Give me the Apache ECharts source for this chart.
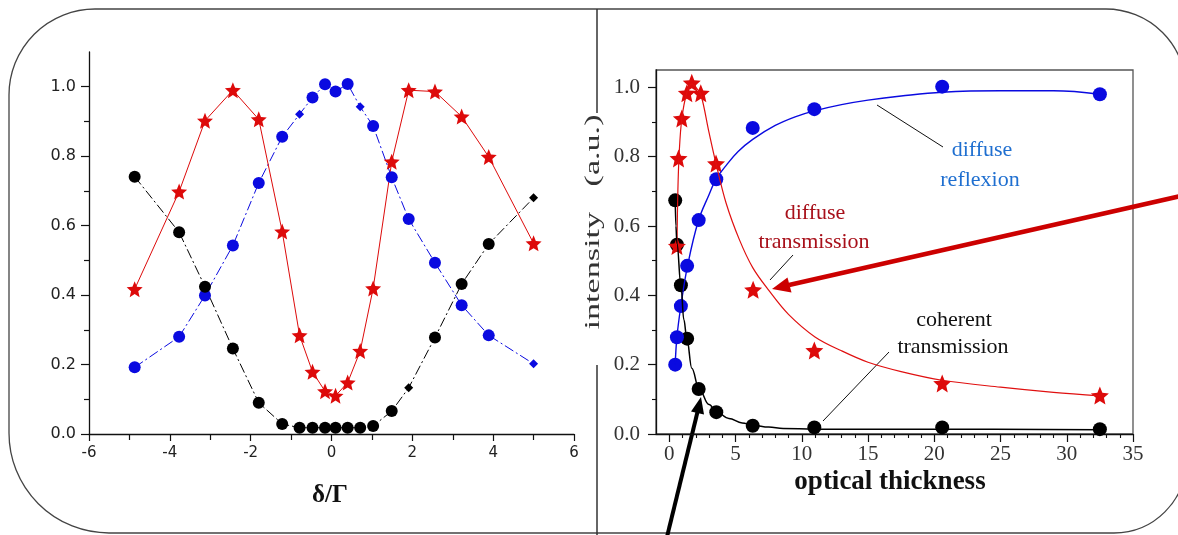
<!DOCTYPE html>
<html>
<head>
<meta charset="utf-8">
<script src="https://cdn.jsdelivr.net/npm/echarts@6/dist/echarts.min.js"></script>
<style>
  html, body { margin: 0; padding: 0; background: #fff; }
  #chart { width: 1178px; height: 535px; }
</style>
</head>
<body>
<div id="chart"></div>
<script>
// ---- Left panel: intensities versus detuning δ/Γ ----
const detuning = [-4.87, -3.77, -3.13, -2.44, -1.80, -1.22, -0.79, -0.47, -0.16, 0.10,
                  0.40, 0.71, 1.03, 1.49, 1.91, 2.56, 3.22, 3.89, 5.00];
const coherentVsDetuning = [0.741, 0.581, 0.424, 0.246, 0.090, 0.029, 0.018, 0.018, 0.018, 0.018,
                            0.018, 0.018, 0.023, 0.066, 0.133, 0.278, 0.432, 0.547, 0.680];
const diffuseTVsDetuning = [0.417, 0.698, 0.902, 0.990, 0.906, 0.583, 0.284, 0.179, 0.123, 0.110,
                            0.148, 0.239, 0.419, 0.784, 0.990, 0.986, 0.914, 0.798, 0.549];
const diffuseRVsDetuning = [0.192, 0.280, 0.399, 0.543, 0.723, 0.856, 0.921, 0.969, 1.007, 0.986,
                            1.008, 0.942, 0.887, 0.739, 0.619, 0.493, 0.371, 0.284, 0.202];

// ---- Right panel: intensities versus optical thickness ----
const thickness = [0.45, 0.58, 0.88, 1.35, 2.22, 3.55, 6.30, 10.95, 20.6, 32.5];
const diffuseReflexion = [0.200, 0.279, 0.369, 0.485, 0.617, 0.735, 0.883, 0.937, 1.002, 0.980];
const coherentTransmission = [0.674, 0.546, 0.429, 0.275, 0.130, 0.063, 0.024, 0.019, 0.019, 0.014];
const thicknessDT = [0.58, 0.70, 0.95, 1.33, 1.70, 2.38, 3.53, 6.33, 10.95, 20.6, 32.5];
const diffuseTransmission = [0.542, 0.795, 0.910, 0.983, 1.013, 0.983, 0.780, 0.416, 0.241, 0.146, 0.111];

// fitted curves through the measurements
const fitReflexionX = [0.45, 0.58, 0.88, 1.38, 2.2, 3.0, 3.53, 4.3, 5.2, 6.3, 8, 9.5, 10.95, 13, 15, 17.5, 20.6, 25, 29, 32.5];
const fitReflexionY = [0.20, 0.28, 0.37, 0.485, 0.615, 0.69, 0.735, 0.775, 0.815, 0.85, 0.89, 0.915, 0.932, 0.95, 0.963, 0.975, 0.986, 0.99, 0.99, 0.98];
const fitTransX = [0.58, 0.65, 0.75, 0.95, 1.33, 1.7, 2.0, 2.38, 3.0, 3.53, 4.3, 5.3, 6.3, 7.5, 9, 11, 13, 15, 17.5, 20.6, 25, 29, 32.5];
const fitTransY = [0.54, 0.70, 0.81, 0.91, 0.985, 1.01, 1.0, 0.98, 0.87, 0.78, 0.665, 0.56, 0.48, 0.415, 0.345, 0.28, 0.24, 0.207, 0.18, 0.155, 0.135, 0.12, 0.11];
const fitCoherentX = [0.45, 0.5, 0.58, 0.88, 1.1, 1.33, 1.7, 2.25, 3.0, 3.58, 4.5, 5.5, 6.33, 7.5, 8.6, 11, 20.6, 32.5];
const fitCoherentY = [0.68, 0.60, 0.55, 0.43, 0.33, 0.275, 0.19, 0.13, 0.085, 0.063, 0.045, 0.032, 0.025, 0.02, 0.016, 0.014, 0.014, 0.012];

// ---- Tick values ----
const leftYLabels = [0, 0.2, 0.4, 0.6, 0.8, 1.0];
const leftYMinor = [0.1, 0.3, 0.5, 0.7, 0.9];
const rightXLabels = [0, 5, 10, 15, 20, 25, 30, 35];
const rightXMinor = [];
for (let v = 0; v <= 34; v++) if (v % 5 !== 0) rightXMinor.push(v);
const rightYLabels = [0, 0.2, 0.4, 0.6, 0.8, 1.0];
const rightYMinor = [0.1, 0.3, 0.5, 0.7, 0.9];

const zip = (xs, ys) => xs.map((x, i) => [x, ys[i]]);

const STAR = 'path://M0,-100L26.5,-36.4L95.1,-30.9L42.8,13.9L58.8,80.9L0,45L-58.8,80.9L-42.8,13.9L-95.1,-30.9L-26.5,-36.4Z';
const SANS = 'DejaVu Sans';
const SERIF = 'Liberation Serif';
const BLUE = '#0a0ae0';
const RED = '#dd0a0a';

// small diamond markers on a few points
const smallBlack = [14, 18];
const smallBlue = [6, 11, 18];
const symFn = (small) => (v, p) => small.indexOf(p.dataIndex) >= 0 ? 'diamond' : 'circle';
const sizeFn = (small) => (v, p) => small.indexOf(p.dataIndex) >= 0 ? 9 : 12;

const axisLineStyle = { color: '#111', width: 1.3 };
const center = { align: 'center', verticalAlign: 'middle', textAlign: 'center', textVerticalAlign: 'middle' };

const option = {
  animation: false,
  backgroundColor: '#fff',
  grid: [
    { left: 89, width: 485, top: 52, height: 382 },
    { left: 656, right: 45, top: 70, height: 364, show: true, borderColor: '#555', borderWidth: 1.3, backgroundColor: 'transparent' }
  ],
  xAxis: [
    { gridIndex: 0, type: 'value', min: -6, max: 6, interval: 2, position: 'bottom',
      axisLine: { onZero: false, lineStyle: axisLineStyle },
      axisTick: { length: 7, lineStyle: { color: '#111', width: 1.2 } },
      minorTick: { show: true, splitNumber: 2, length: 6, lineStyle: { color: '#111', width: 1.2 } },
      axisLabel: { fontFamily: SANS, fontSize: 15, color: '#222', margin: 12 },
      splitLine: { show: false }
    },
    { gridIndex: 1, type: 'value', min: -1, max: 35, position: 'bottom',
      axisLine: { onZero: false, lineStyle: axisLineStyle },
      axisTick: { length: 8, customValues: rightXLabels, lineStyle: { color: '#111', width: 1.2 } },
      axisLabel: { customValues: rightXLabels, fontFamily: SERIF, fontSize: 21, color: '#333', margin: 10 },
      splitLine: { show: false }
    },
    { gridIndex: 1, type: 'value', min: -1, max: 35, position: 'bottom',
      axisLine: { show: false, onZero: false },
      axisTick: { length: 4, customValues: rightXMinor, lineStyle: { color: '#111', width: 1.1 } },
      axisLabel: { show: false },
      splitLine: { show: false }
    }
  ],
  yAxis: [
    { gridIndex: 0, type: 'value', min: 0, max: 1.1, position: 'left',
      axisLine: { onZero: false, lineStyle: axisLineStyle },
      axisTick: { length: 8, customValues: leftYLabels, lineStyle: { color: '#111', width: 1.2 } },
      axisLabel: { customValues: leftYLabels, formatter: v => v.toFixed(1), fontFamily: SANS, fontSize: 16, color: '#222', margin: 13 },
      splitLine: { show: false }
    },
    { gridIndex: 0, type: 'value', min: 0, max: 1.1, position: 'left',
      axisLine: { show: false, onZero: false },
      axisTick: { length: 5, customValues: leftYMinor, lineStyle: { color: '#111', width: 1.2 } },
      axisLabel: { show: false },
      splitLine: { show: false }
    },
    { gridIndex: 1, type: 'value', min: 0, max: 1.05, position: 'left',
      axisLine: { onZero: false, lineStyle: axisLineStyle },
      axisTick: { length: 8, customValues: rightYLabels, lineStyle: { color: '#111', width: 1.2 } },
      axisLabel: { customValues: rightYLabels, formatter: v => v.toFixed(1), fontFamily: SERIF, fontSize: 21, color: '#333', margin: 16 },
      splitLine: { show: false }
    },
    { gridIndex: 1, type: 'value', min: 0, max: 1.05, position: 'left',
      axisLine: { show: false, onZero: false },
      axisTick: { length: 4, customValues: rightYMinor, lineStyle: { color: '#111', width: 1.1 } },
      axisLabel: { show: false },
      splitLine: { show: false }
    }
  ],
  series: [
    // left panel
    { type: 'line', xAxisIndex: 0, yAxisIndex: 0, data: zip(detuning, diffuseRVsDetuning),
      symbol: symFn(smallBlue), symbolSize: sizeFn(smallBlue),
      lineStyle: { color: BLUE, width: 1, type: [10, 3, 2, 3] }, itemStyle: { color: BLUE } },
    { type: 'line', xAxisIndex: 0, yAxisIndex: 0, data: zip(detuning, coherentVsDetuning),
      symbol: symFn(smallBlack), symbolSize: sizeFn(smallBlack),
      lineStyle: { color: '#000', width: 1, type: [10, 3, 2, 3] }, itemStyle: { color: '#000' } },
    { type: 'line', xAxisIndex: 0, yAxisIndex: 0, data: zip(detuning, diffuseTVsDetuning),
      symbol: STAR, symbolSize: 16,
      lineStyle: { color: RED, width: 1 }, itemStyle: { color: RED } },

    // right panel: fitted curves
    { type: 'line', xAxisIndex: 1, yAxisIndex: 2, data: zip(fitReflexionX, fitReflexionY),
      showSymbol: false, smooth: 0.4, lineStyle: { color: BLUE, width: 1.4 } },
    { type: 'line', xAxisIndex: 1, yAxisIndex: 2, data: zip(fitTransX, fitTransY),
      showSymbol: false, smooth: 0.35, lineStyle: { color: '#e01010', width: 1.2 } },
    { type: 'line', xAxisIndex: 1, yAxisIndex: 2, data: zip(fitCoherentX, fitCoherentY),
      showSymbol: false, smooth: 0.4, smoothMonotone: 'x', lineStyle: { color: '#000', width: 1.5 } },

    // right panel: measurements
    { type: 'scatter', xAxisIndex: 1, yAxisIndex: 2, data: zip(thickness, coherentTransmission),
      symbol: 'circle', symbolSize: 14, itemStyle: { color: '#000', opacity: 1 } },
    { type: 'scatter', xAxisIndex: 1, yAxisIndex: 2, data: zip(thickness, diffuseReflexion),
      symbol: 'circle', symbolSize: 14, itemStyle: { color: BLUE, opacity: 1 } },
    { type: 'scatter', xAxisIndex: 1, yAxisIndex: 2, data: zip(thicknessDT, diffuseTransmission),
      symbol: STAR, symbolSize: 18, itemStyle: { color: RED, opacity: 1 } }
  ],
  graphic: [
    // rounded outer frame and panel divider
    { type: 'rect', z: 0, silent: true,
      shape: { x: 9, y: 9, width: 1177, height: 524, r: [86, 80, 72, 100] },
      style: { fill: 'none', stroke: '#444', lineWidth: 1.3 } },
    { type: 'line', silent: true, shape: { x1: 597, y1: 9, x2: 597, y2: 113 }, style: { stroke: '#333', lineWidth: 1.5 } },
    { type: 'line', silent: true, shape: { x1: 597, y1: 365, x2: 597, y2: 535 }, style: { stroke: '#333', lineWidth: 1.5 } },

    // axis titles
    { type: 'text', x: 330, y: 496, silent: true,
      style: Object.assign({ text: 'δ/Γ', fontFamily: SERIF, fontSize: 25, fontWeight: 'bold', fill: '#111' }, center) },
    { type: 'text', x: 890, y: 482, silent: true,
      style: Object.assign({ text: 'optical thickness', fontFamily: SERIF, fontSize: 27, fontWeight: 'bold', fill: '#111' }, center) },
    { type: 'text', x: 593, y: 222, rotation: Math.PI / 2, scaleX: 1.55, silent: true,
      style: Object.assign({ text: 'intensity   (a.u.)', fontFamily: SERIF, fontSize: 22, fill: '#333' }, center) },

    // curve annotations
    { type: 'text', x: 982, y: 150, silent: true,
      style: Object.assign({ text: 'diffuse', fontFamily: SERIF, fontSize: 22, fill: '#1f6fd0' }, center) },
    { type: 'text', x: 980, y: 180, silent: true,
      style: Object.assign({ text: 'reflexion', fontFamily: SERIF, fontSize: 22, fill: '#1f6fd0' }, center) },
    { type: 'line', silent: true, shape: { x1: 877, y1: 105, x2: 943, y2: 147 }, style: { stroke: '#111', lineWidth: 1 } },

    { type: 'text', x: 815, y: 213, silent: true,
      style: Object.assign({ text: 'diffuse', fontFamily: SERIF, fontSize: 22, fill: '#a8101a' }, center) },
    { type: 'text', x: 814, y: 242, silent: true,
      style: Object.assign({ text: 'transmission', fontFamily: SERIF, fontSize: 22, fill: '#a8101a' }, center) },
    { type: 'line', silent: true, shape: { x1: 793, y1: 255, x2: 770, y2: 280 }, style: { stroke: '#111', lineWidth: 1 } },

    { type: 'text', x: 954, y: 320, silent: true,
      style: Object.assign({ text: 'coherent', fontFamily: SERIF, fontSize: 22, fill: '#111' }, center) },
    { type: 'text', x: 953, y: 347, silent: true,
      style: Object.assign({ text: 'transmission', fontFamily: SERIF, fontSize: 22, fill: '#111' }, center) },
    { type: 'line', silent: true, shape: { x1: 889, y1: 352, x2: 823, y2: 421 }, style: { stroke: '#111', lineWidth: 1 } },

    // thick red arrow pointing at the diffuse-transmission curve
    { type: 'line', silent: true, shape: { x1: 1185, y1: 195, x2: 789, y2: 285 }, style: { stroke: '#cc0000', lineWidth: 4.5 } },
    { type: 'polygon', silent: true, shape: { points: [[772, 289], [787.5, 277.5], [791.5, 292.5]] }, style: { fill: '#cc0000' } },

    // thick black arrow pointing at the coherent-transmission curve
    { type: 'line', silent: true, shape: { x1: 665, y1: 545, x2: 697.5, y2: 412 }, style: { stroke: '#000', lineWidth: 4 } },
    { type: 'polygon', silent: true, shape: { points: [[701, 397], [704, 414.5], [691, 411.5]] }, style: { fill: '#000' } }
  ]
};

const chart = echarts.init(document.getElementById('chart'), null, { renderer: 'canvas' });
chart.setOption(option);
</script>
</body>
</html>
